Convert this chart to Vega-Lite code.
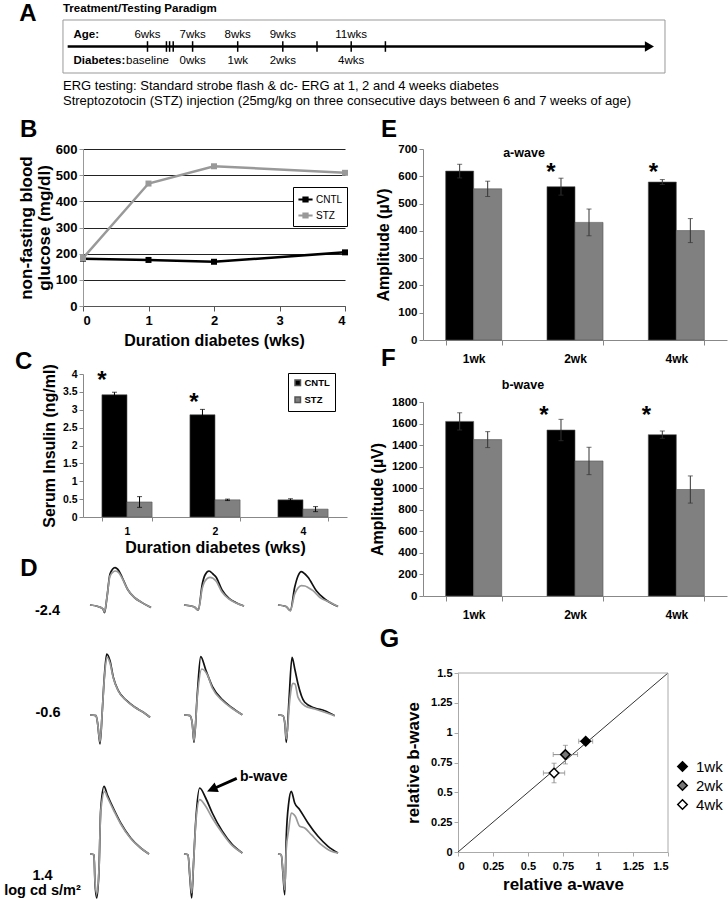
{
"$schema": "https://vega.github.io/schema/vega-lite/v6.json",
"autosize": {"type": "none"},
"padding": {"left": 83, "top": 20, "right": 645, "bottom": 880},
"background": "white",
"columns": 2,
"spacing": {"row": 0, "column": 58},
"align": {"row": "each", "column": "each"},
"bounds": "flush",
"resolve": {"scale": {"color": "independent", "fill": "independent"}, "legend": {"color": "independent", "fill": "independent"}},
"config": {
  "view": {"stroke": null},
  "font": "Liberation Sans",
  "title": {"fontSize": 24, "fontWeight": "bold", "anchor": "start", "frame": "group", "baseline": "alphabetic", "color": "#000", "font": "Liberation Sans"},
  "axis": {"labelFontWeight": "bold", "titleFontWeight": "bold", "labelColor": "#000", "titleColor": "#000", "grid": false, "domainColor": "#888", "tickColor": "#888", "labelFont": "Liberation Sans", "titleFont": "Liberation Sans", "labelOverlap": false},
  "text": {"font": "Liberation Sans", "color": "#000"},
  "legend": {"labelFont": "Liberation Sans", "labelColor": "#000"}
},
"datasets": {
  "one": [{}],
  "ticks": [{"age": 6}, {"age": 6.42}, {"age": 6.49}, {"age": 6.57}, {"age": 7}, {"age": 8}, {"age": 9}, {"age": 10}, {"age": 11}, {"age": 12}],
  "ageLabels": [{"age": 6, "label": "6wks"}, {"age": 7, "label": "7wks"}, {"age": 8, "label": "8wks"}, {"age": 9, "label": "9wks"}, {"age": 11, "label": "11wks"}],
  "diaLabels": [{"age": 6, "label": "baseline"}, {"age": 7, "label": "0wks"}, {"age": 8, "label": "1wk"}, {"age": 9, "label": "2wks"}, {"age": 11, "label": "4wks"}],
  "glucose": [
    {"wk": 0, "grp": "CNTL", "glu": 181}, {"wk": 1, "grp": "CNTL", "glu": 176}, {"wk": 2, "grp": "CNTL", "glu": 169}, {"wk": 4, "grp": "CNTL", "glu": 205},
    {"wk": 0, "grp": "STZ", "glu": 183}, {"wk": 1, "grp": "STZ", "glu": 468}, {"wk": 2, "grp": "STZ", "glu": 534}, {"wk": 4, "grp": "STZ", "glu": 509}
  ],
  "insulin": [
    {"wk": "1", "grp": "CNTL", "val": 3.42, "lo": 3.35, "hi": 3.49},
    {"wk": "1", "grp": "STZ", "val": 0.42, "lo": 0.27, "hi": 0.57},
    {"wk": "2", "grp": "CNTL", "val": 2.86, "lo": 2.71, "hi": 3.01},
    {"wk": "2", "grp": "STZ", "val": 0.48, "lo": 0.46, "hi": 0.5},
    {"wk": "4", "grp": "CNTL", "val": 0.48, "lo": 0.45, "hi": 0.51},
    {"wk": "4", "grp": "STZ", "val": 0.22, "lo": 0.15, "hi": 0.29}
  ],
  "awave": [
    {"wk": "1wk", "grp": "CNTL", "val": 619, "lo": 594, "hi": 644},
    {"wk": "1wk", "grp": "STZ", "val": 554, "lo": 526, "hi": 582},
    {"wk": "2wk", "grp": "CNTL", "val": 562, "lo": 531, "hi": 593},
    {"wk": "2wk", "grp": "STZ", "val": 431, "lo": 382, "hi": 480},
    {"wk": "4wk", "grp": "CNTL", "val": 579, "lo": 570, "hi": 588},
    {"wk": "4wk", "grp": "STZ", "val": 401, "lo": 357, "hi": 445}
  ],
  "bwave": [
    {"wk": "1wk", "grp": "CNTL", "val": 1620, "lo": 1540, "hi": 1700},
    {"wk": "1wk", "grp": "STZ", "val": 1451, "lo": 1377, "hi": 1525},
    {"wk": "2wk", "grp": "CNTL", "val": 1540, "lo": 1441, "hi": 1639},
    {"wk": "2wk", "grp": "STZ", "val": 1253, "lo": 1126, "hi": 1380},
    {"wk": "4wk", "grp": "CNTL", "val": 1497, "lo": 1463, "hi": 1531},
    {"wk": "4wk", "grp": "STZ", "val": 988, "lo": 862, "hi": 1114}
  ],
  "rel": [
    {"wk": "1wk", "a": 0.912, "b": 0.928, "alo": 0.862, "ahi": 0.962, "blo": 0.905, "bhi": 0.95},
    {"wk": "2wk", "a": 0.767, "b": 0.816, "alo": 0.68, "ahi": 0.854, "blo": 0.738, "bhi": 0.894},
    {"wk": "4wk", "a": 0.686, "b": 0.662, "alo": 0.61, "ahi": 0.762, "blo": 0.58, "bhi": 0.744}
  ],
  "erg": [
    {"r":1,"c":1,"g":"CNTL","t":0,"v":0},{"r":1,"c":1,"g":"CNTL","t":8,"v":-1.5},{"r":1,"c":1,"g":"CNTL","t":13,"v":-4},{"r":1,"c":1,"g":"CNTL","t":14.5,"v":-7.6},{"r":1,"c":1,"g":"CNTL","t":17,"v":8},{"r":1,"c":1,"g":"CNTL","t":20,"v":31},{"r":1,"c":1,"g":"CNTL","t":25,"v":37.4},{"r":1,"c":1,"g":"CNTL","t":29,"v":34},{"r":1,"c":1,"g":"CNTL","t":32,"v":28},{"r":1,"c":1,"g":"CNTL","t":38,"v":15},{"r":1,"c":1,"g":"CNTL","t":45,"v":7},{"r":1,"c":1,"g":"CNTL","t":52,"v":2.4},{"r":1,"c":1,"g":"CNTL","t":61,"v":-2.6},
    {"r":1,"c":1,"g":"STZ","t":0,"v":0},{"r":1,"c":1,"g":"STZ","t":8,"v":-1.5},{"r":1,"c":1,"g":"STZ","t":13,"v":-4},{"r":1,"c":1,"g":"STZ","t":14.5,"v":-7},{"r":1,"c":1,"g":"STZ","t":17,"v":8},{"r":1,"c":1,"g":"STZ","t":20,"v":29},{"r":1,"c":1,"g":"STZ","t":25.5,"v":34},{"r":1,"c":1,"g":"STZ","t":29,"v":32},{"r":1,"c":1,"g":"STZ","t":32,"v":27},{"r":1,"c":1,"g":"STZ","t":38,"v":15},{"r":1,"c":1,"g":"STZ","t":45,"v":7},{"r":1,"c":1,"g":"STZ","t":52,"v":2.4},{"r":1,"c":1,"g":"STZ","t":61,"v":-2.6},
    {"r":1,"c":2,"g":"CNTL","t":0,"v":0},{"r":1,"c":2,"g":"CNTL","t":10,"v":-1.7},{"r":1,"c":2,"g":"CNTL","t":14.3,"v":-5},{"r":1,"c":2,"g":"CNTL","t":18.3,"v":21},{"r":1,"c":2,"g":"CNTL","t":21,"v":30},{"r":1,"c":2,"g":"CNTL","t":25,"v":34},{"r":1,"c":2,"g":"CNTL","t":29,"v":31},{"r":1,"c":2,"g":"CNTL","t":32,"v":28},{"r":1,"c":2,"g":"CNTL","t":38,"v":15},{"r":1,"c":2,"g":"CNTL","t":45,"v":6.6},{"r":1,"c":2,"g":"CNTL","t":52,"v":2.3},{"r":1,"c":2,"g":"CNTL","t":60,"v":-1},
    {"r":1,"c":2,"g":"STZ","t":0,"v":0},{"r":1,"c":2,"g":"STZ","t":10,"v":-1.7},{"r":1,"c":2,"g":"STZ","t":14.3,"v":-5},{"r":1,"c":2,"g":"STZ","t":18.3,"v":17},{"r":1,"c":2,"g":"STZ","t":21,"v":24},{"r":1,"c":2,"g":"STZ","t":26,"v":27.6},{"r":1,"c":2,"g":"STZ","t":32,"v":24},{"r":1,"c":2,"g":"STZ","t":38,"v":13},{"r":1,"c":2,"g":"STZ","t":45,"v":6},{"r":1,"c":2,"g":"STZ","t":52,"v":2},{"r":1,"c":2,"g":"STZ","t":60,"v":-1},
    {"r":1,"c":3,"g":"CNTL","t":0,"v":0},{"r":1,"c":3,"g":"CNTL","t":8,"v":-1.5},{"r":1,"c":3,"g":"CNTL","t":12.3,"v":-5.6},{"r":1,"c":3,"g":"CNTL","t":16.7,"v":17.7},{"r":1,"c":3,"g":"CNTL","t":20,"v":29},{"r":1,"c":3,"g":"CNTL","t":23.3,"v":33.4},{"r":1,"c":3,"g":"CNTL","t":27,"v":31},{"r":1,"c":3,"g":"CNTL","t":30,"v":27.7},{"r":1,"c":3,"g":"CNTL","t":38.3,"v":14.3},{"r":1,"c":3,"g":"CNTL","t":46.7,"v":6},{"r":1,"c":3,"g":"CNTL","t":53.3,"v":1.7},{"r":1,"c":3,"g":"CNTL","t":60,"v":-1.6},
    {"r":1,"c":3,"g":"STZ","t":0,"v":0},{"r":1,"c":3,"g":"STZ","t":8,"v":-1.5},{"r":1,"c":3,"g":"STZ","t":12.3,"v":-5.6},{"r":1,"c":3,"g":"STZ","t":16.7,"v":11},{"r":1,"c":3,"g":"STZ","t":20,"v":17},{"r":1,"c":3,"g":"STZ","t":23.3,"v":19.4},{"r":1,"c":3,"g":"STZ","t":27,"v":19},{"r":1,"c":3,"g":"STZ","t":30,"v":17.5},{"r":1,"c":3,"g":"STZ","t":35,"v":14.3},{"r":1,"c":3,"g":"STZ","t":41.7,"v":7.7},{"r":1,"c":3,"g":"STZ","t":51.7,"v":2.7},{"r":1,"c":3,"g":"STZ","t":60,"v":-1.6},
    {"r":2,"c":1,"g":"CNTL","t":0,"v":0},{"r":2,"c":1,"g":"CNTL","t":6,"v":-0.7},{"r":2,"c":1,"g":"CNTL","t":7.7,"v":-9},{"r":2,"c":1,"g":"CNTL","t":10,"v":-29},{"r":2,"c":1,"g":"CNTL","t":12.3,"v":4.3},{"r":2,"c":1,"g":"CNTL","t":14.3,"v":37.7},{"r":2,"c":1,"g":"CNTL","t":16.7,"v":61},{"r":2,"c":1,"g":"CNTL","t":20,"v":54.3},{"r":2,"c":1,"g":"CNTL","t":23.3,"v":37.7},{"r":2,"c":1,"g":"CNTL","t":28.3,"v":24.3},{"r":2,"c":1,"g":"CNTL","t":36.7,"v":14.3},{"r":2,"c":1,"g":"CNTL","t":45,"v":7.7},{"r":2,"c":1,"g":"CNTL","t":53.3,"v":2.7},{"r":2,"c":1,"g":"CNTL","t":60,"v":-2.3},
    {"r":2,"c":1,"g":"STZ","t":0,"v":0},{"r":2,"c":1,"g":"STZ","t":6,"v":-0.7},{"r":2,"c":1,"g":"STZ","t":7.7,"v":-9},{"r":2,"c":1,"g":"STZ","t":10,"v":-27},{"r":2,"c":1,"g":"STZ","t":12.3,"v":4.3},{"r":2,"c":1,"g":"STZ","t":14.3,"v":36},{"r":2,"c":1,"g":"STZ","t":17,"v":57.7},{"r":2,"c":1,"g":"STZ","t":20,"v":52},{"r":2,"c":1,"g":"STZ","t":23.3,"v":37},{"r":2,"c":1,"g":"STZ","t":28.3,"v":24},{"r":2,"c":1,"g":"STZ","t":36.7,"v":14},{"r":2,"c":1,"g":"STZ","t":45,"v":7.5},{"r":2,"c":1,"g":"STZ","t":53.3,"v":2.7},{"r":2,"c":1,"g":"STZ","t":60,"v":-2.3},
    {"r":2,"c":2,"g":"CNTL","t":0,"v":0},{"r":2,"c":2,"g":"CNTL","t":6,"v":-0.7},{"r":2,"c":2,"g":"CNTL","t":8.3,"v":-9},{"r":2,"c":2,"g":"CNTL","t":10,"v":-27.3},{"r":2,"c":2,"g":"CNTL","t":13.3,"v":21},{"r":2,"c":2,"g":"CNTL","t":16.7,"v":58.3},{"r":2,"c":2,"g":"CNTL","t":21.7,"v":45.3},{"r":2,"c":2,"g":"CNTL","t":28.3,"v":28.7},{"r":2,"c":2,"g":"CNTL","t":38.3,"v":15.3},{"r":2,"c":2,"g":"CNTL","t":48.3,"v":7},{"r":2,"c":2,"g":"CNTL","t":58.3,"v":0.3},
    {"r":2,"c":2,"g":"STZ","t":0,"v":0},{"r":2,"c":2,"g":"STZ","t":6,"v":-0.7},{"r":2,"c":2,"g":"STZ","t":8.3,"v":-9},{"r":2,"c":2,"g":"STZ","t":10,"v":-26},{"r":2,"c":2,"g":"STZ","t":13.3,"v":18},{"r":2,"c":2,"g":"STZ","t":17.7,"v":46},{"r":2,"c":2,"g":"STZ","t":23.3,"v":40.3},{"r":2,"c":2,"g":"STZ","t":28.3,"v":27},{"r":2,"c":2,"g":"STZ","t":38.3,"v":14.5},{"r":2,"c":2,"g":"STZ","t":48.3,"v":6.5},{"r":2,"c":2,"g":"STZ","t":58.3,"v":0.3},
    {"r":2,"c":3,"g":"CNTL","t":0,"v":0},{"r":2,"c":3,"g":"CNTL","t":5,"v":-0.7},{"r":2,"c":3,"g":"CNTL","t":7,"v":-10},{"r":2,"c":3,"g":"CNTL","t":8.3,"v":-27.3},{"r":2,"c":3,"g":"CNTL","t":11,"v":15},{"r":2,"c":3,"g":"CNTL","t":14,"v":57.7},{"r":2,"c":3,"g":"CNTL","t":17,"v":45},{"r":2,"c":3,"g":"CNTL","t":20,"v":31},{"r":2,"c":3,"g":"CNTL","t":26.7,"v":12.7},{"r":2,"c":3,"g":"CNTL","t":36.7,"v":7},{"r":2,"c":3,"g":"CNTL","t":46.7,"v":4.3},{"r":2,"c":3,"g":"CNTL","t":56.7,"v":-0.7},
    {"r":2,"c":3,"g":"STZ","t":0,"v":0},{"r":2,"c":3,"g":"STZ","t":5,"v":-0.7},{"r":2,"c":3,"g":"STZ","t":7,"v":-9},{"r":2,"c":3,"g":"STZ","t":8.3,"v":-24},{"r":2,"c":3,"g":"STZ","t":11.7,"v":14.3},{"r":2,"c":3,"g":"STZ","t":13,"v":25},{"r":2,"c":3,"g":"STZ","t":15,"v":31.7},{"r":2,"c":3,"g":"STZ","t":17,"v":31},{"r":2,"c":3,"g":"STZ","t":20,"v":17.7},{"r":2,"c":3,"g":"STZ","t":26.7,"v":9.3},{"r":2,"c":3,"g":"STZ","t":36.7,"v":6},{"r":2,"c":3,"g":"STZ","t":46.7,"v":2.7},{"r":2,"c":3,"g":"STZ","t":56.7,"v":-0.7},
    {"r":3,"c":1,"g":"CNTL","t":0,"v":0},{"r":3,"c":1,"g":"CNTL","t":4,"v":-0.7},{"r":3,"c":1,"g":"CNTL","t":5,"v":-29},{"r":3,"c":1,"g":"CNTL","t":6.7,"v":-44},{"r":3,"c":1,"g":"CNTL","t":9,"v":-15.7},{"r":3,"c":1,"g":"CNTL","t":10.7,"v":44.3},{"r":3,"c":1,"g":"CNTL","t":14,"v":67.7},{"r":3,"c":1,"g":"CNTL","t":17.3,"v":59.3},{"r":3,"c":1,"g":"CNTL","t":24,"v":44.3},{"r":3,"c":1,"g":"CNTL","t":30.7,"v":31},{"r":3,"c":1,"g":"CNTL","t":40.7,"v":16},{"r":3,"c":1,"g":"CNTL","t":50.7,"v":6},{"r":3,"c":1,"g":"CNTL","t":59,"v":0},
    {"r":3,"c":1,"g":"STZ","t":0,"v":0},{"r":3,"c":1,"g":"STZ","t":4,"v":-0.7},{"r":3,"c":1,"g":"STZ","t":5,"v":-27},{"r":3,"c":1,"g":"STZ","t":6.7,"v":-40},{"r":3,"c":1,"g":"STZ","t":9,"v":-15},{"r":3,"c":1,"g":"STZ","t":10.7,"v":42},{"r":3,"c":1,"g":"STZ","t":14.7,"v":62.7},{"r":3,"c":1,"g":"STZ","t":17.3,"v":57},{"r":3,"c":1,"g":"STZ","t":24,"v":43},{"r":3,"c":1,"g":"STZ","t":30.7,"v":30},{"r":3,"c":1,"g":"STZ","t":40.7,"v":15.5},{"r":3,"c":1,"g":"STZ","t":50.7,"v":6},{"r":3,"c":1,"g":"STZ","t":59,"v":0},
    {"r":3,"c":2,"g":"CNTL","t":0,"v":0},{"r":3,"c":2,"g":"CNTL","t":4,"v":-0.7},{"r":3,"c":2,"g":"CNTL","t":6,"v":-25},{"r":3,"c":2,"g":"CNTL","t":7.7,"v":-44},{"r":3,"c":2,"g":"CNTL","t":9.5,"v":-10},{"r":3,"c":2,"g":"CNTL","t":11.7,"v":32.3},{"r":3,"c":2,"g":"CNTL","t":15.7,"v":66},{"r":3,"c":2,"g":"CNTL","t":21.7,"v":56},{"r":3,"c":2,"g":"CNTL","t":28.3,"v":41},{"r":3,"c":2,"g":"CNTL","t":38.3,"v":22.7},{"r":3,"c":2,"g":"CNTL","t":48.3,"v":9.3},{"r":3,"c":2,"g":"CNTL","t":58.3,"v":1},
    {"r":3,"c":2,"g":"STZ","t":0,"v":0},{"r":3,"c":2,"g":"STZ","t":4,"v":-0.7},{"r":3,"c":2,"g":"STZ","t":6,"v":-23},{"r":3,"c":2,"g":"STZ","t":7.7,"v":-39},{"r":3,"c":2,"g":"STZ","t":9.5,"v":-10},{"r":3,"c":2,"g":"STZ","t":11.7,"v":30},{"r":3,"c":2,"g":"STZ","t":15.7,"v":54.3},{"r":3,"c":2,"g":"STZ","t":21.7,"v":47.7},{"r":3,"c":2,"g":"STZ","t":28.3,"v":36},{"r":3,"c":2,"g":"STZ","t":38.3,"v":21},{"r":3,"c":2,"g":"STZ","t":48.3,"v":8.3},{"r":3,"c":2,"g":"STZ","t":58.3,"v":1},
    {"r":3,"c":3,"g":"CNTL","t":0,"v":0},{"r":3,"c":3,"g":"CNTL","t":3.3,"v":-0.7},{"r":3,"c":3,"g":"CNTL","t":5,"v":-20},{"r":3,"c":3,"g":"CNTL","t":6.7,"v":-40.7},{"r":3,"c":3,"g":"CNTL","t":8.3,"v":17.7},{"r":3,"c":3,"g":"CNTL","t":10.7,"v":51},{"r":3,"c":3,"g":"CNTL","t":13.3,"v":62.7},{"r":3,"c":3,"g":"CNTL","t":16.7,"v":51},{"r":3,"c":3,"g":"CNTL","t":21.7,"v":44.3},{"r":3,"c":3,"g":"CNTL","t":30,"v":31},{"r":3,"c":3,"g":"CNTL","t":40,"v":17.7},{"r":3,"c":3,"g":"CNTL","t":50,"v":7.7},{"r":3,"c":3,"g":"CNTL","t":60,"v":1},
    {"r":3,"c":3,"g":"STZ","t":0,"v":0},{"r":3,"c":3,"g":"STZ","t":3.3,"v":-0.7},{"r":3,"c":3,"g":"STZ","t":5,"v":-18},{"r":3,"c":3,"g":"STZ","t":6.7,"v":-35.7},{"r":3,"c":3,"g":"STZ","t":8.3,"v":5},{"r":3,"c":3,"g":"STZ","t":10.7,"v":24.3},{"r":3,"c":3,"g":"STZ","t":13.3,"v":41},{"r":3,"c":3,"g":"STZ","t":17.3,"v":37.7},{"r":3,"c":3,"g":"STZ","t":21.7,"v":27.7},{"r":3,"c":3,"g":"STZ","t":26.7,"v":26},{"r":3,"c":3,"g":"STZ","t":33.3,"v":19.3},{"r":3,"c":3,"g":"STZ","t":43.3,"v":9.3},{"r":3,"c":3,"g":"STZ","t":53.3,"v":2.7},{"r":3,"c":3,"g":"STZ","t":60,"v":1}
  ]
},
"concat": [
  {
    "width": 282, "height": 53,
    "data": {"name": "one"},
    "layer": [
      {"mark": {"type": "rect", "fillOpacity": 0, "stroke": "#999", "strokeWidth": 1},
       "encoding": {"x": {"datum": 4.126, "type": "quantitative", "scale": {"domain": [6, 9, 12], "range": [64.5, 199.8, 302.4]}, "axis": null},
                    "x2": {"datum": 20.175},
                    "y": {"datum": 1, "type": "quantitative", "scale": {"domain": [-1, 1]}, "axis": null},
                    "y2": {"datum": -1}}},
      {"mark": {"type": "rule", "strokeWidth": 2.5, "color": "#000"},
       "encoding": {"x": {"datum": 4.23}, "x2": {"datum": 19.7}, "y": {"datum": 0}}},
      {"mark": {"type": "point", "shape": "triangle-right", "filled": true, "color": "#000", "size": 110, "opacity": 1},
       "encoding": {"x": {"datum": 19.72}, "y": {"datum": 0}}},
      {"data": {"name": "ticks"}, "mark": {"type": "rule", "strokeWidth": 1.5, "color": "#000"},
       "encoding": {"x": {"field": "age", "type": "quantitative"}, "y": {"datum": 0.2}, "y2": {"datum": -0.2}}},
      {"data": {"name": "ageLabels"}, "mark": {"type": "text", "font": "Liberation Sans Narrow, Liberation Sans", "fontSize": 11.5, "baseline": "middle"},
       "encoding": {"x": {"field": "age", "type": "quantitative"}, "y": {"datum": 0.43}, "text": {"field": "label"}}},
      {"data": {"name": "diaLabels"}, "mark": {"type": "text", "font": "Liberation Sans Narrow, Liberation Sans", "fontSize": 11.5, "baseline": "middle"},
       "encoding": {"x": {"field": "age", "type": "quantitative"}, "y": {"datum": -0.55}, "text": {"field": "label"}}},
      {"mark": {"type": "text", "text": "Age:", "align": "left", "fontWeight": "bold", "font": "Liberation Sans Narrow, Liberation Sans", "fontSize": 11.5, "baseline": "middle"},
       "encoding": {"x": {"datum": 4.36}, "y": {"datum": 0.43}}},
      {"mark": {"type": "text", "text": "Diabetes:", "align": "left", "fontWeight": "bold", "font": "Liberation Sans Narrow, Liberation Sans", "fontSize": 11.5, "baseline": "middle"},
       "encoding": {"x": {"datum": 4.36}, "y": {"datum": -0.55}}},
      {"mark": {"type": "text", "text": "Treatment/Testing Paradigm", "align": "left", "fontWeight": "bold", "fontSize": 11.5, "baseline": "middle"},
       "encoding": {"x": {"datum": 4.126}, "y": {"datum": 1.42}}},
      {"mark": {"type": "text", "text": "ERG testing: Standard strobe flash & dc- ERG at 1, 2 and 4 weeks diabetes", "align": "left", "fontSize": 13, "baseline": "middle"},
       "encoding": {"x": {"datum": 4.126}, "y": {"datum": -1.49}}},
      {"mark": {"type": "text", "text": "Streptozotocin (STZ) injection (25mg/kg on three consecutive days between 6 and 7 weeks of age)", "align": "left", "fontSize": 13, "baseline": "middle"},
       "encoding": {"x": {"datum": 4.126}, "y": {"datum": -2.06}}},
      {"mark": {"type": "text", "text": "A", "align": "center", "fontWeight": "bold", "fontSize": 24, "baseline": "middle"},
       "encoding": {"x": {"datum": 3.35}, "y": {"datum": 1.22}}}
    ]
  },
  {"width": 1, "height": 53, "data": {"name": "one"}, "mark": {"type": "text", "text": ""}, "encoding": {}},
  {"width": 1, "height": 76, "data": {"name": "one"}, "mark": {"type": "text", "text": ""}, "encoding": {}},
  {"width": 1, "height": 76, "data": {"name": "one"}, "mark": {"type": "text", "text": ""}, "encoding": {}},
  {
    "width": 262, "height": 157,
    "title": {"text": "B", "dx": -63, "offset": 1},
    "data": {"name": "glucose"},
    "encoding": {
      "x": {"field": "wk", "type": "quantitative", "scale": {"domain": [0, 4], "nice": false},
            "axis": {"values": [0, 1, 2, 3, 4], "format": "d", "title": "Duration diabetes (wks)", "labelFontSize": 13, "titleFontSize": 16, "domainColor": "#555", "tickColor": "#555", "tickSize": 5, "labelPadding": 3, "titlePadding": 5}},
      "y": {"field": "glu", "type": "quantitative", "scale": {"domain": [0, 600], "nice": false},
            "axis": {"values": [0, 100, 200, 300, 400, 500, 600], "grid": true, "gridColor": "#222", "gridWidth": 1, "title": ["non-fasting blood", "glucose (mg/dl)"], "titleFontSize": 17, "titleLineHeight": 18, "labelFontSize": 13, "domainColor": "#999", "tickColor": "#999", "tickSize": 4, "titlePadding": 2}},
      "color": {"field": "grp", "type": "nominal", "scale": {"domain": ["CNTL", "STZ"], "range": ["#000", "#999"]},
                "legend": {"orient": "none", "legendX": 210, "legendY": 38, "title": null, "strokeColor": "#000", "fillColor": "#fff", "padding": 4, "symbolType": "M-1,0H1M-0.3,-0.3H0.3V0.3H-0.3Z", "symbolSize": 200, "symbolStrokeWidth": 2, "labelFontSize": 10, "labelFontWeight": "normal", "rowPadding": 1, "labelOffset": 2}}
    },
    "layer": [
      {"mark": {"type": "line", "strokeWidth": 2.5}},
      {"mark": {"type": "square", "size": 36, "opacity": 1}}
    ]
  },
  {
    "width": 304, "height": 191,
    "title": {"text": "E", "dx": -42, "offset": 1},
    "data": {"name": "awave"},
    "encoding": {
      "x": {"field": "wk", "type": "nominal", "scale": {"paddingInner": 0.447, "paddingOuter": 0.2235},
            "axis": {"title": null, "labelAngle": 0, "tickBand": "extent", "labelFontSize": 12, "labelPadding": 8, "tickSize": 5}},
      "xOffset": {"field": "grp", "type": "nominal", "scale": {"paddingInner": 0, "paddingOuter": 0}}
    },
    "layer": [
      {"mark": {"type": "bar", "stroke": "#555", "strokeWidth": 0.6},
       "encoding": {
         "y": {"field": "val", "type": "quantitative", "scale": {"domain": [0, 700], "nice": false},
               "axis": {"values": [0, 100, 200, 300, 400, 500, 600, 700], "format": "d", "title": "Amplitude (µV)", "titleFontSize": 16, "labelFontSize": 11.5, "tickSize": 4, "titlePadding": 6}},
         "color": {"field": "grp", "type": "nominal", "scale": {"domain": ["CNTL", "STZ"], "range": ["#000", "#808080"]}, "legend": null}
       }},
      {"mark": {"type": "rule", "color": "#333", "strokeWidth": 1}, "encoding": {"y": {"field": "lo", "type": "quantitative", "axis": {"values": [0, 100, 200, 300, 400, 500, 600, 700], "format": "d", "title": "Amplitude (µV)", "titleFontSize": 16, "labelFontSize": 11.5, "tickSize": 4, "titlePadding": 6}}, "y2": {"field": "hi"}}},
      {"mark": {"type": "tick", "color": "#333", "size": 5, "thickness": 1}, "encoding": {"y": {"field": "hi", "type": "quantitative", "axis": {"values": [0, 100, 200, 300, 400, 500, 600, 700], "format": "d", "title": "Amplitude (µV)", "titleFontSize": 16, "labelFontSize": 11.5, "tickSize": 4, "titlePadding": 6}}}},
      {"mark": {"type": "tick", "color": "#333", "size": 5, "thickness": 1}, "encoding": {"y": {"field": "lo", "type": "quantitative", "axis": {"values": [0, 100, 200, 300, 400, 500, 600, 700], "format": "d", "title": "Amplitude (µV)", "titleFontSize": 16, "labelFontSize": 11.5, "tickSize": 4, "titlePadding": 6}}}},
      {"data": {"name": "one"}, "mark": {"type": "text", "text": "*", "fontSize": 24, "fontWeight": "bold", "baseline": "alphabetic", "dx": 4},
       "encoding": {"x": {"datum": "2wk"}, "y": {"datum": 586, "axis": {"values": [0, 100, 200, 300, 400, 500, 600, 700], "format": "d", "title": "Amplitude (µV)", "titleFontSize": 16, "labelFontSize": 11.5, "tickSize": 4, "titlePadding": 6}}, "xOffset": {"value": 0}}},
      {"data": {"name": "one"}, "mark": {"type": "text", "text": "*", "fontSize": 24, "fontWeight": "bold", "baseline": "alphabetic", "dx": 5},
       "encoding": {"x": {"datum": "4wk"}, "y": {"datum": 586, "axis": {"values": [0, 100, 200, 300, 400, 500, 600, 700], "format": "d", "title": "Amplitude (µV)", "titleFontSize": 16, "labelFontSize": 11.5, "tickSize": 4, "titlePadding": 6}}, "xOffset": {"value": 0}}},
      {"data": {"name": "one"}, "mark": {"type": "text", "text": "a-wave", "fontSize": 12.5, "fontWeight": "bold", "baseline": "alphabetic", "dx": -23},
       "encoding": {"x": {"datum": "2wk"}, "y": {"datum": 672, "axis": {"values": [0, 100, 200, 300, 400, 500, 600, 700], "format": "d", "title": "Amplitude (µV)", "titleFontSize": 16, "labelFontSize": 11.5, "tickSize": 4, "titlePadding": 6}}, "xOffset": {"value": 0}}}
    ]
  },
  {"width": 1, "height": 34, "data": {"name": "one"}, "mark": {"type": "text", "text": ""}, "encoding": {}},
  {"width": 1, "height": 34, "data": {"name": "one"}, "mark": {"type": "text", "text": ""}, "encoding": {}},
  {
    "width": 264, "height": 143,
    "title": {"text": "C", "dx": -68, "offset": -10},
    "data": {"name": "insulin"},
    "encoding": {
      "x": {"field": "wk", "type": "nominal", "scale": {"paddingInner": 0.43, "paddingOuter": 0.215},
            "axis": {"labelAngle": 0, "title": "Duration diabetes (wks)", "tickBand": "extent", "labelFontSize": 10.5, "titleFontSize": 16, "tickSize": 4, "labelPadding": 5, "titlePadding": 3}},
      "xOffset": {"field": "grp", "type": "nominal", "scale": {"paddingInner": 0, "paddingOuter": 0}}
    },
    "layer": [
      {"mark": {"type": "bar", "stroke": "#555", "strokeWidth": 0.6},
       "encoding": {
         "y": {"field": "val", "type": "quantitative", "scale": {"domain": [0, 4], "nice": false},
               "axis": {"values": [0, 0.5, 1, 1.5, 2, 2.5, 3, 3.5, 4], "format": ".1~f", "title": "Serum Insulin (ng/ml)", "titleFontSize": 16, "labelFontSize": 10.5, "tickSize": 4, "titlePadding": 5}},
         "color": {"field": "grp", "type": "nominal", "scale": {"domain": ["CNTL", "STZ"], "range": ["#000", "#808080"]},
                   "legend": {"orient": "none", "legendX": 205, "legendY": -1, "title": null, "strokeColor": "#000", "fillColor": "#fff", "padding": 5, "symbolType": "square", "symbolSize": 30, "labelFontSize": 9.5, "labelFontWeight": "bold", "rowPadding": 5, "labelOffset": 2}}
       }},
      {"mark": {"type": "rule", "color": "#000", "strokeWidth": 1}, "encoding": {"y": {"field": "lo", "type": "quantitative", "axis": {"values": [0, 0.5, 1, 1.5, 2, 2.5, 3, 3.5, 4], "format": ".1~f", "title": "Serum Insulin (ng/ml)", "titleFontSize": 16, "labelFontSize": 10.5, "tickSize": 4, "titlePadding": 5}}, "y2": {"field": "hi"}}},
      {"mark": {"type": "tick", "color": "#000", "size": 5, "thickness": 1}, "encoding": {"y": {"field": "hi", "type": "quantitative", "axis": {"values": [0, 0.5, 1, 1.5, 2, 2.5, 3, 3.5, 4], "format": ".1~f", "title": "Serum Insulin (ng/ml)", "titleFontSize": 16, "labelFontSize": 10.5, "tickSize": 4, "titlePadding": 5}}}},
      {"mark": {"type": "tick", "color": "#000", "size": 5, "thickness": 1}, "encoding": {"y": {"field": "lo", "type": "quantitative", "axis": {"values": [0, 0.5, 1, 1.5, 2, 2.5, 3, 3.5, 4], "format": ".1~f", "title": "Serum Insulin (ng/ml)", "titleFontSize": 16, "labelFontSize": 10.5, "tickSize": 4, "titlePadding": 5}}}},
      {"data": {"name": "one"}, "mark": {"type": "text", "text": "*", "fontSize": 24, "fontWeight": "bold", "baseline": "alphabetic"},
       "encoding": {"x": {"datum": "1"}, "y": {"datum": 3.61, "axis": {"values": [0, 0.5, 1, 1.5, 2, 2.5, 3, 3.5, 4], "format": ".1~f", "title": "Serum Insulin (ng/ml)", "titleFontSize": 16, "labelFontSize": 10.5, "tickSize": 4, "titlePadding": 5}}, "xOffset": {"value": 0}}},
      {"data": {"name": "one"}, "mark": {"type": "text", "text": "*", "fontSize": 24, "fontWeight": "bold", "baseline": "alphabetic", "dx": 4},
       "encoding": {"x": {"datum": "2"}, "y": {"datum": 3.0, "axis": {"values": [0, 0.5, 1, 1.5, 2, 2.5, 3, 3.5, 4], "format": ".1~f", "title": "Serum Insulin (ng/ml)", "titleFontSize": 16, "labelFontSize": 10.5, "tickSize": 4, "titlePadding": 5}}, "xOffset": {"value": 0}}}
    ]
  },
  {
    "width": 304, "height": 222,
    "title": {"text": "F", "dx": -42, "offset": 3},
    "data": {"name": "bwave"},
    "encoding": {
      "x": {"field": "wk", "type": "nominal", "scale": {"paddingInner": 0.447, "paddingOuter": 0.2235},
            "axis": {"title": null, "labelAngle": 0, "tickBand": "extent", "labelFontSize": 12, "labelPadding": 8, "tickSize": 5}},
      "xOffset": {"field": "grp", "type": "nominal", "scale": {"paddingInner": 0, "paddingOuter": 0}}
    },
    "layer": [
      {"mark": {"type": "bar", "stroke": "#555", "strokeWidth": 0.6},
       "encoding": {
         "y": {"field": "val", "type": "quantitative", "scale": {"domain": [0, 1800], "range": [222, 28], "nice": false},
               "axis": {"values": [0, 200, 400, 600, 800, 1000, 1200, 1400, 1600, 1800], "format": "d", "title": "Amplitude (µV)", "titleFontSize": 16, "labelFontSize": 11.5, "tickSize": 4, "titlePadding": 6}},
         "color": {"field": "grp", "type": "nominal", "scale": {"domain": ["CNTL", "STZ"], "range": ["#000", "#808080"]}, "legend": null}
       }},
      {"mark": {"type": "rule", "color": "#333", "strokeWidth": 1}, "encoding": {"y": {"field": "lo", "type": "quantitative", "axis": {"values": [0, 200, 400, 600, 800, 1000, 1200, 1400, 1600, 1800], "format": "d", "title": "Amplitude (µV)", "titleFontSize": 16, "labelFontSize": 11.5, "tickSize": 4, "titlePadding": 6}}, "y2": {"field": "hi"}}},
      {"mark": {"type": "tick", "color": "#333", "size": 5, "thickness": 1}, "encoding": {"y": {"field": "hi", "type": "quantitative", "axis": {"values": [0, 200, 400, 600, 800, 1000, 1200, 1400, 1600, 1800], "format": "d", "title": "Amplitude (µV)", "titleFontSize": 16, "labelFontSize": 11.5, "tickSize": 4, "titlePadding": 6}}}},
      {"mark": {"type": "tick", "color": "#333", "size": 5, "thickness": 1}, "encoding": {"y": {"field": "lo", "type": "quantitative", "axis": {"values": [0, 200, 400, 600, 800, 1000, 1200, 1400, 1600, 1800], "format": "d", "title": "Amplitude (µV)", "titleFontSize": 16, "labelFontSize": 11.5, "tickSize": 4, "titlePadding": 6}}}},
      {"data": {"name": "one"}, "mark": {"type": "text", "text": "*", "fontSize": 24, "fontWeight": "bold", "baseline": "alphabetic", "dx": -3},
       "encoding": {"x": {"datum": "2wk"}, "y": {"datum": 1605, "axis": {"values": [0, 200, 400, 600, 800, 1000, 1200, 1400, 1600, 1800], "format": "d", "title": "Amplitude (µV)", "titleFontSize": 16, "labelFontSize": 11.5, "tickSize": 4, "titlePadding": 6}}, "xOffset": {"value": 0}}},
      {"data": {"name": "one"}, "mark": {"type": "text", "text": "*", "fontSize": 24, "fontWeight": "bold", "baseline": "alphabetic", "dx": -2},
       "encoding": {"x": {"datum": "4wk"}, "y": {"datum": 1605, "axis": {"values": [0, 200, 400, 600, 800, 1000, 1200, 1400, 1600, 1800], "format": "d", "title": "Amplitude (µV)", "titleFontSize": 16, "labelFontSize": 11.5, "tickSize": 4, "titlePadding": 6}}, "xOffset": {"value": 0}}},
      {"data": {"name": "one"}, "mark": {"type": "text", "text": "b-wave", "fontSize": 12.5, "fontWeight": "bold", "baseline": "alphabetic", "dx": -24},
       "encoding": {"x": {"datum": "2wk"}, "y": {"datum": 1921, "axis": {"values": [0, 200, 400, 600, 800, 1000, 1200, 1400, 1600, 1800], "format": "d", "title": "Amplitude (µV)", "titleFontSize": 16, "labelFontSize": 11.5, "tickSize": 4, "titlePadding": 6}}, "xOffset": {"value": 0}}}
    ]
  },
  {
    "width": 282, "height": 304,
    "data": {"name": "erg"},
    "encoding": {
      "x": {"field": "c", "type": "ordinal", "scale": {"domain": [1, 2, 3], "paddingInner": 0, "paddingOuter": 0}, "axis": null},
      "xOffset": {"field": "t", "type": "quantitative", "scale": {"domain": [-7, 87], "nice": false, "zero": false}}
    },
    "layer": [
      {"layer": [
        {"transform": [{"filter": "datum.r == 1"}],
         "mark": {"type": "line", "strokeWidth": 1.7, "interpolate": "monotone"},
         "encoding": {
           "y": {"field": "v", "type": "quantitative", "scale": {"domain": [-10, 40], "range": [19, -31], "nice": false, "zero": false},
                 "axis": {"orient": "left", "title": "-2.4", "titleAngle": 0, "labels": false, "ticks": false, "domain": false, "titleFontSize": 14.5, "titleX": -36, "titleY": 14, "titleAlign": "center", "titleBaseline": "middle"}},
           "color": {"field": "g", "type": "nominal", "scale": {"domain": ["CNTL", "STZ"], "range": ["#111", "#999"]}, "legend": null},
           "detail": {"field": "c", "type": "nominal"},
           "order": {"field": "t", "type": "quantitative"}}},
        {"data": {"name": "one"}, "mark": {"type": "text", "text": "D", "align": "center", "baseline": "middle", "fontSize": 24, "fontWeight": "bold", "dx": -54},
         "encoding": {"x": {"datum": 1}, "xOffset": {"value": 0}, "y": {"datum": 36.5}}}
      ]},
      {"transform": [{"filter": "datum.r == 2"}],
       "mark": {"type": "line", "strokeWidth": 1.7, "interpolate": "monotone"},
       "encoding": {
         "y": {"field": "v", "type": "quantitative", "scale": {"domain": [-34, 64], "range": [153, 55], "nice": false, "zero": false},
               "axis": {"orient": "left", "title": "-0.6", "titleAngle": 0, "labels": false, "ticks": false, "domain": false, "titleFontSize": 14.5, "titleX": -35.5, "titleY": 116, "titleAlign": "center", "titleBaseline": "middle"}},
         "color": {"field": "g", "type": "nominal", "scale": {"domain": ["CNTL", "STZ"], "range": ["#111", "#999"]}, "legend": null},
         "detail": {"field": "c", "type": "nominal"},
         "order": {"field": "t", "type": "quantitative"}}},
      {"layer": [
        {"transform": [{"filter": "datum.r == 3"}],
         "mark": {"type": "line", "strokeWidth": 1.7, "interpolate": "monotone"},
         "encoding": {
           "y": {"field": "v", "type": "quantitative", "scale": {"domain": [-46, 69], "range": [304, 189], "nice": false, "zero": false},
                 "axis": {"orient": "left", "title": ["1.4", "log cd s/m²"], "titleAngle": 0, "labels": false, "ticks": false, "domain": false, "titleFontSize": 14.5, "titleLineHeight": 15, "titleX": -41, "titleY": 279, "titleAlign": "center", "titleBaseline": "middle"}},
           "color": {"field": "g", "type": "nominal", "scale": {"domain": ["CNTL", "STZ"], "range": ["#111", "#999"]}, "legend": null},
           "detail": {"field": "c", "type": "nominal"},
           "order": {"field": "t", "type": "quantitative"}}},
        {"data": {"name": "one"}, "mark": {"type": "point", "shape": "M-1,0L-0.35,-0.32L-0.35,-0.09L1,-0.09L1,0.09L-0.35,0.09L-0.35,0.32Z", "filled": true, "color": "#000", "size": 1056, "opacity": 1, "angle": -24, "strokeWidth": 0},
         "encoding": {"x": {"datum": 2}, "xOffset": {"value": 44.9}, "y": {"datum": 69.1}}},
        {"data": {"name": "one"}, "mark": {"type": "text", "text": "b-wave", "align": "left", "baseline": "middle", "fontSize": 14, "fontWeight": "bold", "dx": 63},
         "encoding": {"x": {"datum": 2}, "xOffset": {"value": 0}, "y": {"datum": 77.3}}},
        {"data": {"name": "one"}, "mark": {"type": "point", "shape": "M-1,0L-0.35,-0.32L-0.35,-0.09L1,-0.09L1,0.09L-0.35,0.09L-0.35,0.32Z", "filled": true, "color": "#000", "size": 784, "opacity": 1, "angle": 8, "strokeWidth": 0},
         "encoding": {"x": {"datum": 3}, "xOffset": {"value": 36.2}, "y": {"datum": -59.5}}},
        {"data": {"name": "one"}, "mark": {"type": "text", "text": "a-wave", "align": "left", "baseline": "middle", "fontSize": 14, "fontWeight": "bold", "dx": 55.7},
         "encoding": {"x": {"datum": 3}, "xOffset": {"value": 0}, "y": {"datum": -61}}}
      ]}
    ],
    "resolve": {"scale": {"y": "independent"}, "axis": {"y": "independent"}}
  },
  {
    "width": 245, "height": 256,
    "data": {"name": "rel"},
    "layer": [
      {"data": {"name": "one"}, "mark": {"type": "rule", "color": "#333", "strokeWidth": 1},
       "encoding": {"x": {"datum": 0, "type": "quantitative", "scale": {"domain": [0, 1.5], "range": [35, 245], "nice": false},
                          "axis": {"values": [0, 0.25, 0.5, 0.75, 1, 1.25, 1.5], "format": ".2~f", "title": "relative a-wave", "titleFontSize": 17, "labelFontSize": 11, "domainColor": "#aaa", "tickColor": "#aaa", "tickSize": 4, "labelPadding": 4, "titlePadding": 5}},
                    "y": {"datum": 0, "type": "quantitative", "scale": {"domain": [0, 1.5], "range": [256, 77], "nice": false},
                          "axis": {"values": [0, 0.25, 0.5, 0.75, 1, 1.25, 1.5], "format": ".2~f", "title": "relative b-wave", "titleFontSize": 17, "labelFontSize": 11, "domainColor": "#aaa", "tickColor": "#aaa", "tickSize": 4, "titlePadding": 8, "offset": -35}},
                    "x2": {"datum": 1.5}, "y2": {"datum": 1.5}}},
      {"data": {"name": "one"}, "mark": {"type": "rule", "color": "#aaa", "strokeWidth": 1},
       "encoding": {"x": {"datum": 0}, "x2": {"datum": 1.5}, "y": {"datum": 1.5}}},
      {"data": {"name": "one"}, "mark": {"type": "rule", "color": "#aaa", "strokeWidth": 1},
       "encoding": {"x": {"datum": 1.5}, "y": {"datum": 0}, "y2": {"datum": 1.5}}},
      {"data": {"name": "one"}, "mark": {"type": "text", "text": "G", "align": "center", "baseline": "middle", "fontSize": 25, "fontWeight": "bold"},
       "encoding": {"x": {"datum": -0.489}, "y": {"datum": 1.789}}},
      {"mark": {"type": "rule", "color": "#888", "strokeWidth": 1},
       "encoding": {"x": {"field": "alo", "type": "quantitative"}, "x2": {"field": "ahi"}, "y": {"field": "b", "type": "quantitative"}}},
      {"mark": {"type": "rule", "color": "#888", "strokeWidth": 1},
       "encoding": {"y": {"field": "blo", "type": "quantitative"}, "y2": {"field": "bhi"}, "x": {"field": "a", "type": "quantitative"}}},
      {"mark": {"type": "tick", "orient": "vertical", "color": "#888", "size": 5, "thickness": 1},
       "encoding": {"x": {"field": "alo", "type": "quantitative"}, "y": {"field": "b", "type": "quantitative"}}},
      {"mark": {"type": "tick", "orient": "vertical", "color": "#888", "size": 5, "thickness": 1},
       "encoding": {"x": {"field": "ahi", "type": "quantitative"}, "y": {"field": "b", "type": "quantitative"}}},
      {"mark": {"type": "tick", "orient": "horizontal", "color": "#888", "size": 5, "thickness": 1},
       "encoding": {"x": {"field": "a", "type": "quantitative"}, "y": {"field": "blo", "type": "quantitative"}}},
      {"mark": {"type": "tick", "orient": "horizontal", "color": "#888", "size": 5, "thickness": 1},
       "encoding": {"x": {"field": "a", "type": "quantitative"}, "y": {"field": "bhi", "type": "quantitative"}}},
      {"mark": {"type": "point", "shape": "diamond", "filled": true, "size": 90, "stroke": "#000", "strokeWidth": 1.5, "opacity": 1},
       "encoding": {"x": {"field": "a", "type": "quantitative"}, "y": {"field": "b", "type": "quantitative"},
                    "fill": {"field": "wk", "type": "nominal", "scale": {"domain": ["1wk", "2wk", "4wk"], "range": ["#000", "#777", "#fff"]},
                             "legend": {"orient": "none", "legendX": 252, "legendY": 163, "title": null, "symbolType": "diamond", "symbolSize": 90, "symbolStrokeColor": "#000", "symbolStrokeWidth": 1.5, "labelFontSize": 15, "labelFontWeight": "normal", "rowPadding": 2, "labelOffset": 6, "padding": 0}}}}
    ]
  }
]
}
